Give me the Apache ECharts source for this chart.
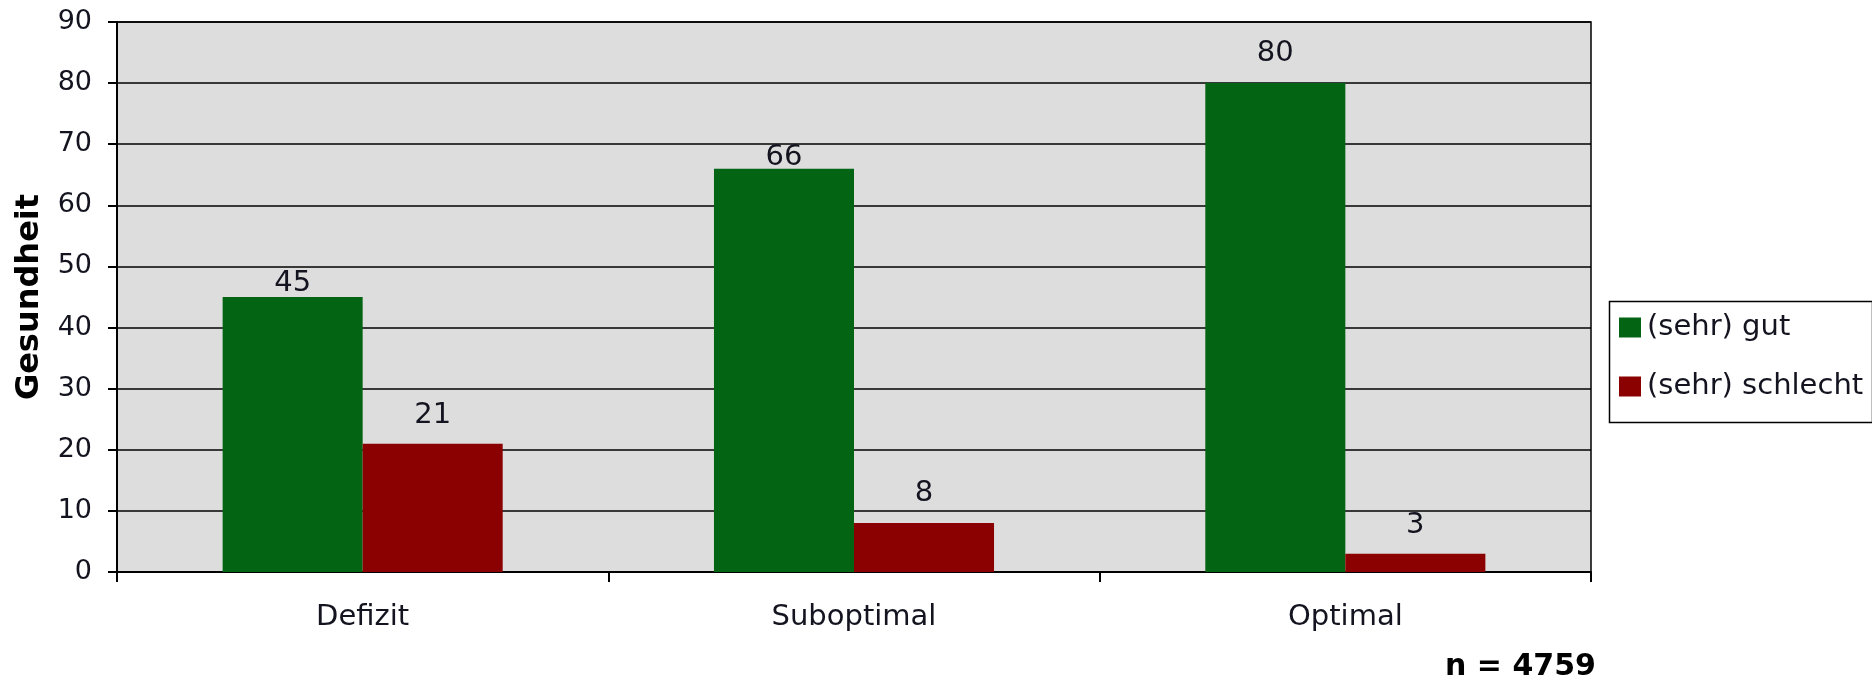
<!DOCTYPE html>
<html>
<head>
<meta charset="utf-8">
<script src="https://cdn.jsdelivr.net/npm/echarts@6/dist/echarts.min.js"></script>
<style>
  html, body { margin: 0; padding: 0; background: #fff; }
  #chart { width: 1872px; height: 681px; }
</style>
</head>
<body>
<div id="chart"></div>
<script>
// Health self-rating by supply level (percent)
const categories = ['Defizit', 'Suboptimal', 'Optimal'];
const seriesNames = ['(sehr) gut', '(sehr) schlecht'];
const gutValues = [45, 66, 80];
const schlechtValues = [21, 8, 3];
const yTicks = [0, 10, 20, 30, 40, 50, 60, 70, 80, 90];
const axisTitle = 'Gesundheit';
const sampleNote = 'n = 4759';

const FONT = '"DejaVu Sans", Verdana, sans-serif';
const TEXT = '#141420';
const GREEN = '#036414';
const RED = '#8b0000';

// value labels sit higher above some bars than others
const gutLift = [-1, -3, 15];
const schlechtLift = [14, 15, 14];

function barData(values, lifts) {
  return values.map((v, i) => ({
    value: v,
    label: { distance: lifts[i] }
  }));
}

const chart = echarts.init(document.getElementById('chart'), null, { renderer: 'canvas' });

chart.setOption({
  animation: false,
  backgroundColor: '#ffffff',
  textStyle: { fontFamily: FONT },
  grid: {
    left: 117, top: 22, right: 281, bottom: 109,
    outerBoundsMode: 'none',
    containLabel: false,
    show: true,
    backgroundColor: '#dddddd',
    borderColor: '#000',
    borderWidth: 1.5
  },
  legend: {
    orient: 'vertical',
    left: 1619,
    top: 313,
    itemWidth: 22,
    itemHeight: 20,
    itemGap: 30,
    padding: 0,
    icon: 'rect',
    textStyle: { fontFamily: FONT, fontSize: 29, color: TEXT, padding: [0, 0, 0, 1], lineHeight: 29 },
    data: seriesNames
  },
  xAxis: {
    type: 'category',
    data: categories,
    axisLine: { lineStyle: { color: '#000', width: 2 } },
    axisTick: { show: true, length: 10, lineStyle: { color: '#000', width: 2 } },
    axisLabel: { fontSize: 29, color: TEXT, margin: 31, fontFamily: FONT },
    splitLine: { show: false }
  },
  yAxis: {
    type: 'value',
    min: yTicks[0],
    max: yTicks[yTicks.length - 1],
    interval: yTicks[1] - yTicks[0],
    name: axisTitle,
    nameLocation: 'middle',
    nameGap: 71,
    nameTextStyle: { fontSize: 32, fontWeight: 'bold', color: '#000', fontFamily: FONT },
    axisLine: { show: true, lineStyle: { color: '#000', width: 2 } },
    axisTick: { show: true, length: 9, lineStyle: { color: '#000', width: 2 } },
    axisLabel: { fontSize: 27, color: TEXT, margin: 25, fontFamily: FONT },
    splitLine: { show: true, lineStyle: { color: '#000', width: 1.5 } }
  },
  series: [
    {
      name: seriesNames[0],
      type: 'bar',
      data: barData(gutValues, gutLift),
      barWidth: '28.5%',
      barGap: '0%',
      itemStyle: { color: GREEN },
      label: { show: true, position: 'top', fontSize: 29, color: TEXT, fontFamily: FONT }
    },
    {
      name: seriesNames[1],
      type: 'bar',
      data: barData(schlechtValues, schlechtLift),
      barWidth: '28.5%',
      barGap: '0%',
      itemStyle: { color: RED },
      label: { show: true, position: 'top', fontSize: 29, color: TEXT, fontFamily: FONT }
    }
  ],
  graphic: [
    {
      type: 'rect',
      left: 1607, top: 299,
      shape: { width: 263, height: 121 },
      style: { fill: 'none', stroke: '#000', lineWidth: 1.5 },
      z: 10
    },
    {
      type: 'text',
      left: 1445, top: 652,
      style: { text: sampleNote, fontSize: 30, fontWeight: 'bold', fill: '#000', fontFamily: FONT },
      z: 10
    }
  ]
});
</script>
</body>
</html>
